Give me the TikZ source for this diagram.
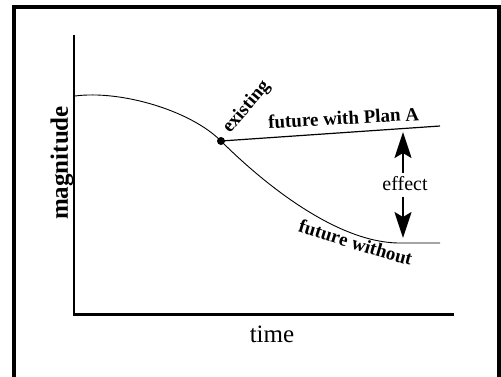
\documentclass[tikz,border=0pt]{standalone}
\usepackage{fontspec}
\setmainfont{Liberation Serif}
\usetikzlibrary{arrows.meta,decorations.text}
\begin{document}
\begin{tikzpicture}[x=1pt,y=-1pt,
  frame/.style={line width=4pt},
  axis/.style={line width=2.2pt},
  curve/.style={line width=0.9pt},
  bigarrow/.style={line width=2pt,-{Stealth[length=26pt,width=17pt,inset=5pt]}},
  lbl/.style={font=\bfseries\fontsize{19}{19}\selectfont,inner sep=0pt}]
\useasboundingbox (0,0) rectangle (501,376);
% frame
\draw[frame] (14,380) -- (14,7) -- (499,7) -- (499,380);
% axes
\coordinate (ytop) at (74.3,36);
\coordinate (orig) at (74.3,314.5);
\coordinate (xend) at (453,314.5);
\draw[axis,line cap=rect] (ytop) -- (orig) -- (xend);
% curves
\coordinate (start) at (75,96);
\coordinate (ex) at (221,141);
\coordinate (low) at (400,243);
\coordinate (lowend) at (440,243);
\coordinate (planend) at (440,126);
\draw[curve] (start) .. controls (120,90) and (190,110) .. (ex)
  .. controls (250,170) and (330,243) .. (low) -- (lowend);
\draw[line width=1.2pt] (ex) -- (planend);
\fill (ex) circle (4pt);
% labels
\node[lbl,rotate=50,anchor=base west] (existing) at (230,134) {existing};
\node[lbl,rotate=3.2,anchor=base] (plana) at (344,124.5) {future with Plan A};
\node[font=\fontsize{20}{20}\selectfont,inner sep=0pt] (eff) at (405,184) {effect};
\node[font=\fontsize{25}{25}\selectfont,inner sep=0pt] (time) at (272,334) {time};
\node[font=\bfseries\fontsize{25}{25}\selectfont,rotate=90,inner sep=0pt] (mag) at (62,163) {magnitude};
\path[decorate,decoration={text along path,text align=center,
  text={|\bfseries\fontsize{19}{19}\selectfont|future without}}]
  (292,230) .. controls (330,241) and (372,256) .. (416,267);
% effect arrows
\coordinate (upS) at (403,173);
\coordinate (upT) at (403,132);
\coordinate (dnS) at (403,197);
\coordinate (dnT) at (403,238);
\draw[bigarrow] (upS) -- (upT);
\draw[bigarrow] (dnS) -- (dnT);
\end{tikzpicture}
\end{document}
